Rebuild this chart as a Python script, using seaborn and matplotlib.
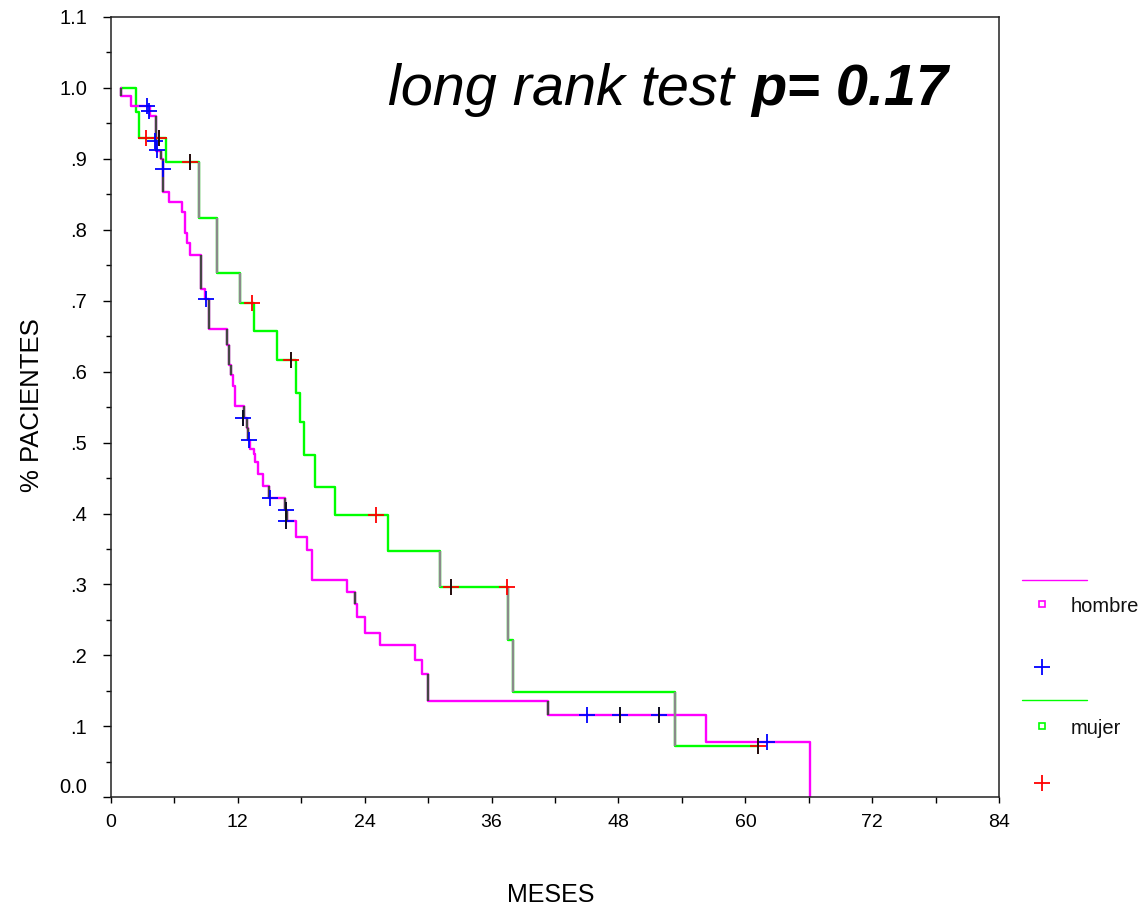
import numpy as np
import pandas as pd
import matplotlib
matplotlib.use("Agg")
import matplotlib.pyplot as plt
import matplotlib.transforms as mtransforms
from matplotlib.lines import Line2D
import seaborn as sns

# ---------------- data ----------------
groups = ["hombre", "mujer"]

hombre_t = [1.0, 1.0, 1.9, 3.7, 4.27, 4.8, 4.95, 5.5, 6.75, 7.0, 7.2, 7.5,
            8.5, 8.9, 9.3, 11.0, 11.2, 11.4, 11.6, 11.75, 12.6, 12.9, 13.0,
            13.15, 13.5, 13.6, 13.9, 14.4, 14.96, 16.5, 16.65, 17.5, 18.6,
            19.0, 22.3, 23.05, 23.3, 24.0, 25.5, 28.75, 29.45, 30.0, 41.3,
            56.3, 66.1]
hombre_s = [1.0, 0.988, 0.975, 0.960, 0.911, 0.900, 0.854, 0.839, 0.825,
            0.796, 0.781, 0.765, 0.716, 0.703, 0.660, 0.638, 0.609, 0.595,
            0.580, 0.551, 0.534, 0.521, 0.503, 0.491, 0.484, 0.472, 0.456,
            0.439, 0.422, 0.405, 0.389, 0.367, 0.348, 0.307, 0.289, 0.272,
            0.254, 0.232, 0.215, 0.194, 0.174, 0.136, 0.116, 0.078, 0.0]

mujer_t = [1.0, 2.36, 2.67, 5.2, 8.36, 10.06, 12.26, 13.5, 15.75, 17.5,
           17.86, 18.26, 19.34, 21.2, 26.2, 31.1, 37.6, 38.0, 53.3, 61.2]
mujer_s = [1.0, 0.966, 0.930, 0.896, 0.817, 0.739, 0.697, 0.657, 0.616,
           0.570, 0.529, 0.482, 0.438, 0.398, 0.347, 0.297, 0.222, 0.149,
           0.073, 0.073]

hombre_cens_t = [3.45, 3.6, 4.15, 4.34, 4.9, 9.0, 12.5, 13.05, 15.1, 16.6,
                 16.6, 45.05, 48.1, 51.8, 62.0]
hombre_cens_s = [0.975, 0.968, 0.925, 0.912, 0.886, 0.703, 0.534, 0.503,
                 0.422, 0.405, 0.389, 0.116, 0.116, 0.116, 0.078]

mujer_cens_t = [3.3, 4.6, 7.5, 13.4, 17.0, 25.1, 32.2, 37.5, 61.2]
mujer_cens_s = [0.930, 0.930, 0.896, 0.697, 0.616, 0.398, 0.297, 0.297, 0.073]

x_ticks = [0, 12, 24, 36, 48, 60, 72, 84]
y_ticks = [0.0, 0.1, 0.2, 0.3, 0.4, 0.5, 0.6, 0.7, 0.8, 0.9, 1.0, 1.1]
y_tick_labels = ["0.0", ".1", ".2", ".3", ".4", ".5", ".6", ".7", ".8", ".9",
                 "1.0", "1.1"]

title_main = "long rank test "
title_p = "p= 0.17"
x_label = "MESES"
y_label = "% PACIENTES"

# ---------------- styling ----------------
line_colors = {"hombre": "#FF00FF", "mujer": "#00FF00"}
cens_colors = {"hombre": "#0000FF", "mujer": "#FF0000"}
# drops (indices into the step arrays) that the reference renders in grey
grey_drop_style = {"hombre": ([1, 4, 5, 6, 12, 14, 15, 16, 17, 20, 21, 22, 28,
                               29, 30, 35, 41, 42], "#454545"),
                   "mujer": ([4, 5, 6, 15, 16, 17, 18], "#8a8a8a")}
# censor crosses whose vertical bar is drawn in black in the reference
black_bar_style = {"hombre": [6, 9, 10, 12, 13], "mujer": [1, 2, 4, 6, 8]}

sns.set_theme(style="white")
plt.rcParams["font.family"] = ["Liberation Sans", "DejaVu Sans"]

W, H = 1147, 910
fig = plt.figure(figsize=(W / 100, H / 100), dpi=100)
ax_l, ax_r, ax_t, ax_b = 110.7, 999.3, 17.0, 797.3
ax = fig.add_axes([ax_l / W, 1 - ax_b / H, (ax_r - ax_l) / W, (ax_b - ax_t) / H])

step_data = {"hombre": (hombre_t, hombre_s), "mujer": (mujer_t, mujer_s)}
cens_data = {"hombre": (hombre_cens_t, hombre_cens_s),
             "mujer": (mujer_cens_t, mujer_cens_s)}

curves = pd.concat([pd.DataFrame({"t": t, "s": s, "grupo": g})
                    for g, (t, s) in step_data.items()], ignore_index=True)
cens = pd.concat([pd.DataFrame({"t": t, "s": s, "grupo": g})
                  for g, (t, s) in cens_data.items()], ignore_index=True)

for g in ["mujer", "hombre"]:
    sub = curves[curves["grupo"] == g]
    sns.lineplot(data=sub, x="t", y="s", color=line_colors[g],
                 drawstyle="steps-post", estimator=None, sort=False,
                 linewidth=1.7, legend=False, ax=ax)
    t, s = step_data[g]
    idx, gcol = grey_drop_style[g]
    ax.vlines([t[i] for i in idx], [s[i] for i in idx], [s[i - 1] for i in idx],
              colors=gcol, linewidth=1.7, zorder=3)

for g in ["mujer", "hombre"]:
    sub = cens[cens["grupo"] == g]
    sns.scatterplot(data=sub, x="t", y="s", marker="+", s=130,
                    color=cens_colors[g], linewidth=1.3, legend=False,
                    ax=ax, zorder=4)
    t, s = cens_data[g]
    bi = black_bar_style[g]
    sns.scatterplot(x=[t[i] for i in bi], y=[s[i] for i in bi], marker="|",
                    s=130, color="#111111", linewidth=1.3, legend=False,
                    ax=ax, zorder=5)

ax.set_xlim(0, 84)
ax.set_ylim(0, 1.1)
ax.set_xticks(x_ticks)
ax.set_xticklabels([str(v) for v in x_ticks])
ax.set_xticks(np.arange(6, 84, 12), minor=True)
ax.set_yticks(y_ticks)
ax.set_yticklabels(y_tick_labels)
ax.set_yticks(np.arange(0.05, 1.1, 0.1), minor=True)
ax.set_xlabel("")
ax.set_ylabel("")

ax.tick_params(axis="x", which="both", direction="out", length=4, width=1,
               color="black", bottom=True, labelsize=14, pad=8,
               labelcolor="black")
ax.tick_params(axis="y", which="major", direction="out", length=6, width=1,
               color="black", left=True, labelsize=14.5, pad=11,
               labelcolor="black")
ax.tick_params(axis="y", which="minor", direction="out", length=3.5,
               width=1, color="black", left=True)

# lift the "0.0" label like the reference
lbl0 = ax.get_yticklabels()[0]
lbl0.set_transform(lbl0.get_transform() +
                   mtransforms.ScaledTranslation(0, 0.12, fig.dpi_scale_trans))

for sp in ax.spines.values():
    sp.set_color("#222222")
    sp.set_linewidth(1.1)
    sp.set_visible(True)

ax.set_xlabel(x_label, fontsize=18, color="black")
ax.set_ylabel(y_label, fontsize=18.5, color="black")
ax.xaxis.set_label_coords(0.4955, (ax_b - 895) / (ax_b - ax_t))
ax.xaxis.label.set_va("center")
ax.yaxis.set_label_coords((32 - ax_l) / (ax_r - ax_l), (ax_b - 405) / (ax_b - ax_t))
ax.yaxis.label.set_va("center")

# title text
fig.text(388 / W, 1 - 105 / H, title_main, fontsize=41.5, style="italic",
         ha="left", va="baseline", color="black")
fig.text(948 / W, 1 - 105 / H, title_p, fontsize=41.5, style="italic",
         weight="bold", ha="right", va="baseline", color="black")

# legend (SPSS style, outside right)
def fx(px):
    return px / W

def fy(py):
    return 1 - py / H

leg_rows = [("hombre", 580, 604, 667), ("mujer", 700, 726, 783)]
for g, yl, ys, yc in leg_rows:
    fig.add_artist(Line2D([fx(1022), fx(1087)], [fy(yl), fy(yl)],
                          color=line_colors[g], lw=1.0))
    fig.add_artist(Line2D([fx(1041.7)], [fy(ys)], marker="s", markersize=5,
                          markerfacecolor="white", markeredgecolor=line_colors[g],
                          markeredgewidth=1.2, lw=0))
    fig.text(fx(1071), fy(ys + 2), g, fontsize=14.5, ha="left", va="center",
             color="#111111")
    fig.add_artist(Line2D([fx(1041.7)], [fy(yc)], marker="+", markersize=12,
                          markeredgecolor=cens_colors[g], markeredgewidth=1.3,
                          lw=0))

fig.savefig("out.png", dpi=100)
